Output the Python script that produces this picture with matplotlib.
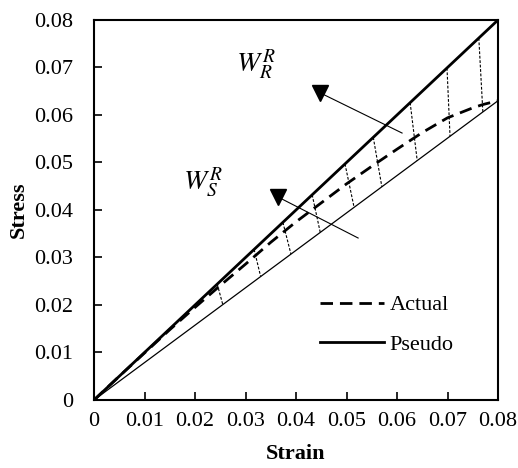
import matplotlib
matplotlib.use("Agg")
import matplotlib.pyplot as plt

plt.rcParams['font.family'] = 'Liberation Serif'
plt.rcParams['mathtext.fontset'] = 'stix'

# pseudo (linear) response and the reference line through the end of the actual curve
pseudo_strain = [0.0, 0.08]
pseudo_stress = [0.0, 0.08]
ref_strain = [0.0, 0.08]
ref_stress = [0.0, 0.063]

# actual (damaged) response
actual_strain = [0.0, 0.005, 0.01, 0.015, 0.02, 0.025, 0.03, 0.035, 0.04, 0.045,
                 0.05, 0.055, 0.06, 0.065, 0.07, 0.075, 0.077, 0.08]
actual_stress = [0.0, 0.005, 0.0099, 0.0148, 0.0195, 0.0241, 0.0286, 0.0332, 0.0375, 0.0415,
                 0.0455, 0.0492, 0.0528, 0.0563, 0.0594, 0.0615, 0.0622, 0.063]

# hatch lines between pseudo line and reference line
hatch_top = [0.0244, 0.0317, 0.0374, 0.0432, 0.0497, 0.0553, 0.0626, 0.0699, 0.0762]
hatch_bot = [0.0255, 0.0330, 0.0390, 0.0448, 0.0515, 0.0570, 0.0640, 0.0705, 0.0770]

fig = plt.figure(figsize=(5.18, 4.68), dpi=100)
ax = fig.add_axes([0.1815, 0.1453, 0.7799, 0.812])

slope = ref_stress[1] / ref_strain[1]
for xt, xb in zip(hatch_top, hatch_bot):
    ax.plot([xt, xb], [xt, xb * slope], color='black', lw=0.8, ls=(0, (2.5, 1.5)))

ax.plot(ref_strain, ref_stress, color='black', lw=0.9)
ax.plot(actual_strain, actual_stress, color='black', lw=2.0, ls=(0, (4.5, 2.5)), label='Actual')
ax.plot(pseudo_strain, pseudo_stress, color='black', lw=2.0, label='Pseudo')

# arrows pointing to the energy labels
for (x0, y0, x1, y1) in [(0.0610, 0.0562, 0.0447, 0.0647), (0.0523, 0.0341, 0.0365, 0.0427)]:
    ax.plot([x0, x1], [y0, y1], color='black', lw=0.8)
    ax.plot([x1], [y1], marker='v', color='black', ms=11)

ax.text(0.032, 0.0705, r'$W_R^R$', fontsize=20, ha='center', va='center')
ax.text(0.0215, 0.0457, r'$W_S^R$', fontsize=20, ha='center', va='center')

ax.set_xlim(0, 0.08)
ax.set_ylim(0, 0.08)
ticks = [0, 0.01, 0.02, 0.03, 0.04, 0.05, 0.06, 0.07, 0.08]
labels = ['0', '0.01', '0.02', '0.03', '0.04', '0.05', '0.06', '0.07', '0.08']
ax.set_xticks(ticks)
ax.set_xticklabels(labels)
ax.set_yticks(ticks)
ax.set_yticklabels(labels)
ax.tick_params(direction='in', length=6, width=1.2, labelsize=16)
ax.tick_params(axis='x', pad=9)
ax.tick_params(axis='y', pad=15)
for s in ax.spines.values():
    s.set_linewidth(1.5)

ax.set_xlabel('Strain', fontsize=16, fontweight='bold', labelpad=9)
ax.set_ylabel('Stress', fontsize=16, fontweight='bold', labelpad=4)

ax.legend(loc='upper left', bbox_to_anchor=(0.537, 0.3), borderaxespad=0, frameon=False,
          fontsize=16, handlelength=2.9, labelspacing=0.85, handletextpad=0.25)

fig.savefig('out.png', dpi=100)
